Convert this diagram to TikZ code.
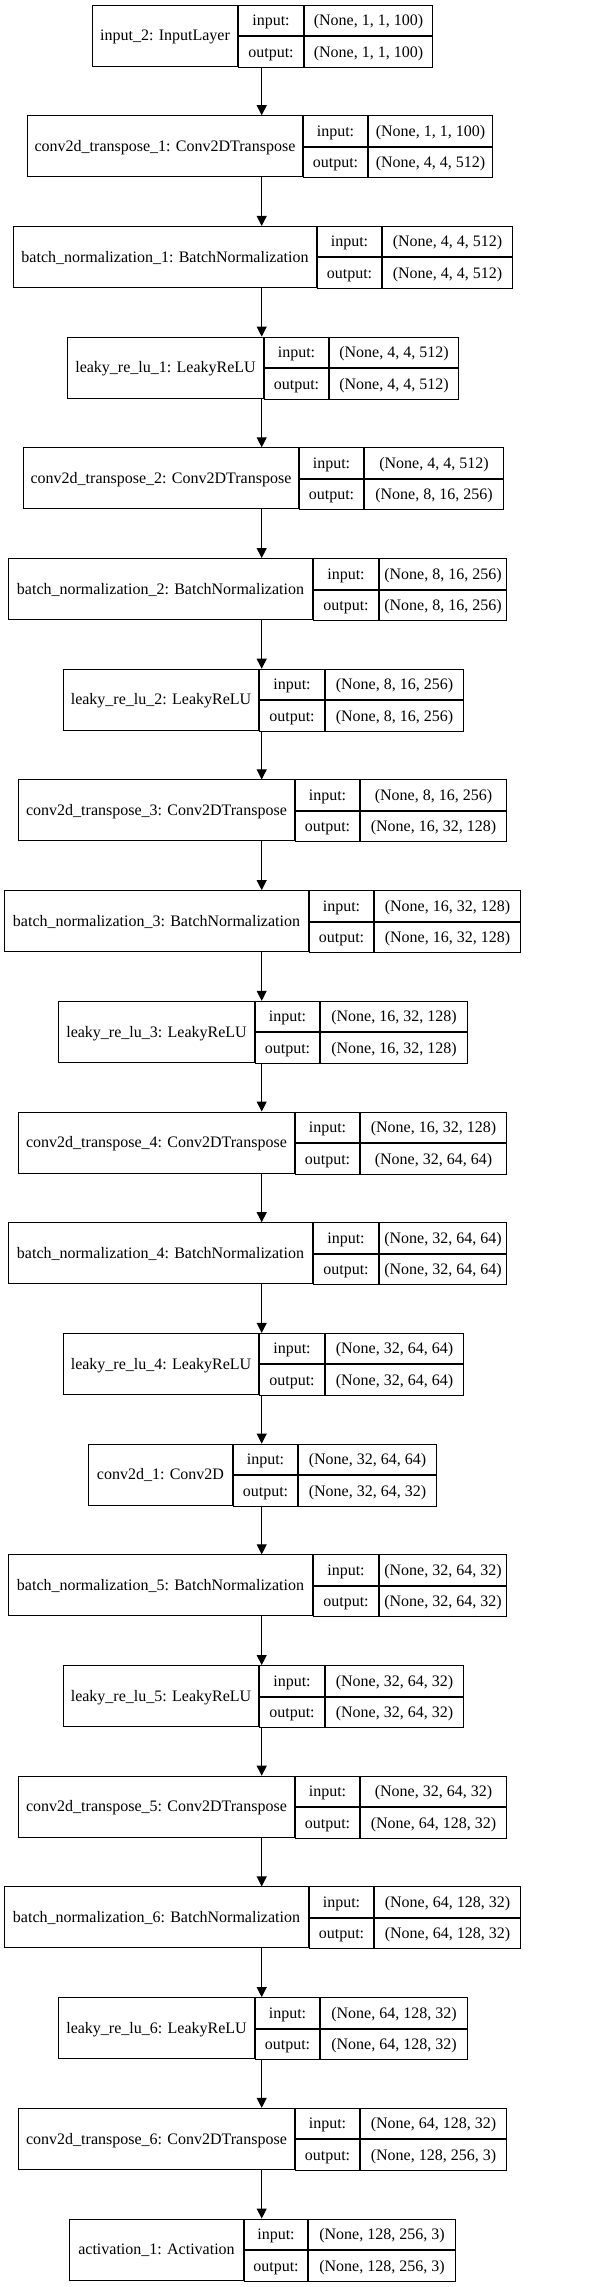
\documentclass[tikz,border=0pt]{standalone}
\usepackage{fontspec}
\setmainfont{Liberation Serif}
\usepackage{tikz}
\usetikzlibrary{arrows.meta}

\begin{document}
\begin{tikzpicture}[x=1pt, y=-1pt, font=\fontsize{16}{19}\selectfont,
  lbl/.style={draw, line width=1pt, anchor=west, minimum height=61pt, inner sep=0pt, text height=10.5pt, text depth=0pt},
  iocell/.style={draw, line width=1pt, anchor=north west, minimum height=30.5pt, inner sep=0pt, text height=10.5pt, text depth=0pt},
  arr/.style={line width=1pt, -{Triangle[length=10pt,width=10pt]}}]
  \useasboundingbox (0,0) rectangle (597,2287);
  \coordinate (axis) at (261.7,0);
  % input_2
  \begin{scope}[yshift=-5pt]
    \node[lbl, minimum width=145pt] (in2) at (92,30.5) {input\_2: InputLayer};
    \node[iocell, minimum width=65pt] (in2i) at (in2.north east) {input:};
    \node[iocell, minimum width=65pt] (in2o) at (in2i.south west) {output:};
    \node[iocell, minimum width=128pt] (in2si) at (in2i.north east) {(None, 1, 1, 100)};
    \node[iocell, minimum width=128pt] (in2so) at (in2si.south west) {(None, 1, 1, 100)};
  \end{scope}
  % conv2d_transpose_1
  \begin{scope}[yshift=-115.7pt]
    \node[lbl, minimum width=275pt] (ct1) at (27,30.5) {conv2d\_transpose\_1: Conv2DTranspose};
    \node[iocell, minimum width=64pt] (ct1i) at (ct1.north east) {input:};
    \node[iocell, minimum width=64pt] (ct1o) at (ct1i.south west) {output:};
    \node[iocell, minimum width=124pt] (ct1si) at (ct1i.north east) {(None, 1, 1, 100)};
    \node[iocell, minimum width=124pt] (ct1so) at (ct1si.south west) {(None, 4, 4, 512)};
  \end{scope}
  % batch_normalization_1
  \begin{scope}[yshift=-226.4pt]
    \node[lbl, minimum width=303pt] (bn1) at (13,30.5) {batch\_normalization\_1: BatchNormalization};
    \node[iocell, minimum width=64pt] (bn1i) at (bn1.north east) {input:};
    \node[iocell, minimum width=64pt] (bn1o) at (bn1i.south west) {output:};
    \node[iocell, minimum width=130pt] (bn1si) at (bn1i.north east) {(None, 4, 4, 512)};
    \node[iocell, minimum width=130pt] (bn1so) at (bn1si.south west) {(None, 4, 4, 512)};
  \end{scope}
  % leaky_re_lu_1
  \begin{scope}[yshift=-337.1pt]
    \node[lbl, minimum width=196pt] (lr1) at (67,30.5) {leaky\_re\_lu\_1: LeakyReLU};
    \node[iocell, minimum width=64pt] (lr1i) at (lr1.north east) {input:};
    \node[iocell, minimum width=64pt] (lr1o) at (lr1i.south west) {output:};
    \node[iocell, minimum width=129pt] (lr1si) at (lr1i.north east) {(None, 4, 4, 512)};
    \node[iocell, minimum width=129pt] (lr1so) at (lr1si.south west) {(None, 4, 4, 512)};
  \end{scope}
  % conv2d_transpose_2
  \begin{scope}[yshift=-447.8pt]
    \node[lbl, minimum width=275pt] (ct2) at (23,30.5) {conv2d\_transpose\_2: Conv2DTranspose};
    \node[iocell, minimum width=64pt] (ct2i) at (ct2.north east) {input:};
    \node[iocell, minimum width=64pt] (ct2o) at (ct2i.south west) {output:};
    \node[iocell, minimum width=139pt] (ct2si) at (ct2i.north east) {(None, 4, 4, 512)};
    \node[iocell, minimum width=139pt] (ct2so) at (ct2si.south west) {(None, 8, 16, 256)};
  \end{scope}
  % batch_normalization_2
  \begin{scope}[yshift=-558.5pt]
    \node[lbl, minimum width=304pt] (bn2) at (8,30.5) {batch\_normalization\_2: BatchNormalization};
    \node[iocell, minimum width=65pt] (bn2i) at (bn2.north east) {input:};
    \node[iocell, minimum width=65pt] (bn2o) at (bn2i.south west) {output:};
    \node[iocell, minimum width=127pt] (bn2si) at (bn2i.north east) {(None, 8, 16, 256)};
    \node[iocell, minimum width=127pt] (bn2so) at (bn2si.south west) {(None, 8, 16, 256)};
  \end{scope}
  % leaky_re_lu_2
  \begin{scope}[yshift=-669.2pt]
    \node[lbl, minimum width=195pt] (lr2) at (63,30.5) {leaky\_re\_lu\_2: LeakyReLU};
    \node[iocell, minimum width=65pt] (lr2i) at (lr2.north east) {input:};
    \node[iocell, minimum width=65pt] (lr2o) at (lr2i.south west) {output:};
    \node[iocell, minimum width=138pt] (lr2si) at (lr2i.north east) {(None, 8, 16, 256)};
    \node[iocell, minimum width=138pt] (lr2so) at (lr2si.south west) {(None, 8, 16, 256)};
  \end{scope}
  % conv2d_transpose_3
  \begin{scope}[yshift=-779.9pt]
    \node[lbl, minimum width=276pt] (ct3) at (18,30.5) {conv2d\_transpose\_3: Conv2DTranspose};
    \node[iocell, minimum width=64pt] (ct3i) at (ct3.north east) {input:};
    \node[iocell, minimum width=64pt] (ct3o) at (ct3i.south west) {output:};
    \node[iocell, minimum width=146pt] (ct3si) at (ct3i.north east) {(None, 8, 16, 256)};
    \node[iocell, minimum width=146pt] (ct3so) at (ct3si.south west) {(None, 16, 32, 128)};
  \end{scope}
  % batch_normalization_3
  \begin{scope}[yshift=-890.6pt]
    \node[lbl, minimum width=304pt] (bn3) at (4,30.5) {batch\_normalization\_3: BatchNormalization};
    \node[iocell, minimum width=64pt] (bn3i) at (bn3.north east) {input:};
    \node[iocell, minimum width=64pt] (bn3o) at (bn3i.south west) {output:};
    \node[iocell, minimum width=146pt] (bn3si) at (bn3i.north east) {(None, 16, 32, 128)};
    \node[iocell, minimum width=146pt] (bn3so) at (bn3si.south west) {(None, 16, 32, 128)};
  \end{scope}
  % leaky_re_lu_3
  \begin{scope}[yshift=-1001.3pt]
    \node[lbl, minimum width=196pt] (lr3) at (58,30.5) {leaky\_re\_lu\_3: LeakyReLU};
    \node[iocell, minimum width=64pt] (lr3i) at (lr3.north east) {input:};
    \node[iocell, minimum width=64pt] (lr3o) at (lr3i.south west) {output:};
    \node[iocell, minimum width=147pt] (lr3si) at (lr3i.north east) {(None, 16, 32, 128)};
    \node[iocell, minimum width=147pt] (lr3so) at (lr3si.south west) {(None, 16, 32, 128)};
  \end{scope}
  % conv2d_transpose_4
  \begin{scope}[yshift=-1112pt]
    \node[lbl, minimum width=276pt] (ct4) at (18,30.5) {conv2d\_transpose\_4: Conv2DTranspose};
    \node[iocell, minimum width=64pt] (ct4i) at (ct4.north east) {input:};
    \node[iocell, minimum width=64pt] (ct4o) at (ct4i.south west) {output:};
    \node[iocell, minimum width=146pt] (ct4si) at (ct4i.north east) {(None, 16, 32, 128)};
    \node[iocell, minimum width=146pt] (ct4so) at (ct4si.south west) {(None, 32, 64, 64)};
  \end{scope}
  % batch_normalization_4
  \begin{scope}[yshift=-1222.7pt]
    \node[lbl, minimum width=304pt] (bn4) at (8,30.5) {batch\_normalization\_4: BatchNormalization};
    \node[iocell, minimum width=65pt] (bn4i) at (bn4.north east) {input:};
    \node[iocell, minimum width=65pt] (bn4o) at (bn4i.south west) {output:};
    \node[iocell, minimum width=127pt] (bn4si) at (bn4i.north east) {(None, 32, 64, 64)};
    \node[iocell, minimum width=127pt] (bn4so) at (bn4si.south west) {(None, 32, 64, 64)};
  \end{scope}
  % leaky_re_lu_4
  \begin{scope}[yshift=-1333.4pt]
    \node[lbl, minimum width=195pt] (lr4) at (63,30.5) {leaky\_re\_lu\_4: LeakyReLU};
    \node[iocell, minimum width=65pt] (lr4i) at (lr4.north east) {input:};
    \node[iocell, minimum width=65pt] (lr4o) at (lr4i.south west) {output:};
    \node[iocell, minimum width=138pt] (lr4si) at (lr4i.north east) {(None, 32, 64, 64)};
    \node[iocell, minimum width=138pt] (lr4so) at (lr4si.south west) {(None, 32, 64, 64)};
  \end{scope}
  % conv2d_1
  \begin{scope}[yshift=-1444.1pt]
    \node[lbl, minimum width=144pt] (cv1) at (88,30.5) {conv2d\_1: Conv2D};
    \node[iocell, minimum width=64pt] (cv1i) at (cv1.north east) {input:};
    \node[iocell, minimum width=64pt] (cv1o) at (cv1i.south west) {output:};
    \node[iocell, minimum width=138pt] (cv1si) at (cv1i.north east) {(None, 32, 64, 64)};
    \node[iocell, minimum width=138pt] (cv1so) at (cv1si.south west) {(None, 32, 64, 32)};
  \end{scope}
  % batch_normalization_5
  \begin{scope}[yshift=-1554.8pt]
    \node[lbl, minimum width=304pt] (bn5) at (8,30.5) {batch\_normalization\_5: BatchNormalization};
    \node[iocell, minimum width=65pt] (bn5i) at (bn5.north east) {input:};
    \node[iocell, minimum width=65pt] (bn5o) at (bn5i.south west) {output:};
    \node[iocell, minimum width=127pt] (bn5si) at (bn5i.north east) {(None, 32, 64, 32)};
    \node[iocell, minimum width=127pt] (bn5so) at (bn5si.south west) {(None, 32, 64, 32)};
  \end{scope}
  % leaky_re_lu_5
  \begin{scope}[yshift=-1665.5pt]
    \node[lbl, minimum width=195pt] (lr5) at (63,30.5) {leaky\_re\_lu\_5: LeakyReLU};
    \node[iocell, minimum width=65pt] (lr5i) at (lr5.north east) {input:};
    \node[iocell, minimum width=65pt] (lr5o) at (lr5i.south west) {output:};
    \node[iocell, minimum width=138pt] (lr5si) at (lr5i.north east) {(None, 32, 64, 32)};
    \node[iocell, minimum width=138pt] (lr5so) at (lr5si.south west) {(None, 32, 64, 32)};
  \end{scope}
  % conv2d_transpose_5
  \begin{scope}[yshift=-1776.2pt]
    \node[lbl, minimum width=276pt] (ct5) at (18,30.5) {conv2d\_transpose\_5: Conv2DTranspose};
    \node[iocell, minimum width=64pt] (ct5i) at (ct5.north east) {input:};
    \node[iocell, minimum width=64pt] (ct5o) at (ct5i.south west) {output:};
    \node[iocell, minimum width=146pt] (ct5si) at (ct5i.north east) {(None, 32, 64, 32)};
    \node[iocell, minimum width=146pt] (ct5so) at (ct5si.south west) {(None, 64, 128, 32)};
  \end{scope}
  % batch_normalization_6
  \begin{scope}[yshift=-1886.9pt]
    \node[lbl, minimum width=304pt] (bn6) at (4,30.5) {batch\_normalization\_6: BatchNormalization};
    \node[iocell, minimum width=64pt] (bn6i) at (bn6.north east) {input:};
    \node[iocell, minimum width=64pt] (bn6o) at (bn6i.south west) {output:};
    \node[iocell, minimum width=146pt] (bn6si) at (bn6i.north east) {(None, 64, 128, 32)};
    \node[iocell, minimum width=146pt] (bn6so) at (bn6si.south west) {(None, 64, 128, 32)};
  \end{scope}
  % leaky_re_lu_6
  \begin{scope}[yshift=-1997.6pt]
    \node[lbl, minimum width=196pt] (lr6) at (58,30.5) {leaky\_re\_lu\_6: LeakyReLU};
    \node[iocell, minimum width=64pt] (lr6i) at (lr6.north east) {input:};
    \node[iocell, minimum width=64pt] (lr6o) at (lr6i.south west) {output:};
    \node[iocell, minimum width=147pt] (lr6si) at (lr6i.north east) {(None, 64, 128, 32)};
    \node[iocell, minimum width=147pt] (lr6so) at (lr6si.south west) {(None, 64, 128, 32)};
  \end{scope}
  % conv2d_transpose_6
  \begin{scope}[yshift=-2108.3pt]
    \node[lbl, minimum width=276pt] (ct6) at (18,30.5) {conv2d\_transpose\_6: Conv2DTranspose};
    \node[iocell, minimum width=64pt] (ct6i) at (ct6.north east) {input:};
    \node[iocell, minimum width=64pt] (ct6o) at (ct6i.south west) {output:};
    \node[iocell, minimum width=146pt] (ct6si) at (ct6i.north east) {(None, 64, 128, 32)};
    \node[iocell, minimum width=146pt] (ct6so) at (ct6si.south west) {(None, 128, 256, 3)};
  \end{scope}
  % activation_1
  \begin{scope}[yshift=-2219pt]
    \node[lbl, minimum width=174pt] (act1) at (69,30.5) {activation\_1: Activation};
    \node[iocell, minimum width=63pt] (act1i) at (act1.north east) {input:};
    \node[iocell, minimum width=63pt] (act1o) at (act1i.south west) {output:};
    \node[iocell, minimum width=147pt] (act1si) at (act1i.north east) {(None, 128, 256, 3)};
    \node[iocell, minimum width=147pt] (act1so) at (act1si.south west) {(None, 128, 256, 3)};
  \end{scope}
  % edges
  \draw[arr] (in2.south -| axis) -- (ct1.north -| axis);
  \draw[arr] (ct1.south -| axis) -- (bn1.north -| axis);
  \draw[arr] (bn1.south -| axis) -- (lr1.north -| axis);
  \draw[arr] (lr1.south -| axis) -- (ct2.north -| axis);
  \draw[arr] (ct2.south -| axis) -- (bn2.north -| axis);
  \draw[arr] (bn2.south -| axis) -- (lr2.north -| axis);
  \draw[arr] (lr2.south -| axis) -- (ct3.north -| axis);
  \draw[arr] (ct3.south -| axis) -- (bn3.north -| axis);
  \draw[arr] (bn3.south -| axis) -- (lr3.north -| axis);
  \draw[arr] (lr3.south -| axis) -- (ct4.north -| axis);
  \draw[arr] (ct4.south -| axis) -- (bn4.north -| axis);
  \draw[arr] (bn4.south -| axis) -- (lr4.north -| axis);
  \draw[arr] (lr4.south -| axis) -- (cv1.north -| axis);
  \draw[arr] (cv1.south -| axis) -- (bn5.north -| axis);
  \draw[arr] (bn5.south -| axis) -- (lr5.north -| axis);
  \draw[arr] (lr5.south -| axis) -- (ct5.north -| axis);
  \draw[arr] (ct5.south -| axis) -- (bn6.north -| axis);
  \draw[arr] (bn6.south -| axis) -- (lr6.north -| axis);
  \draw[arr] (lr6.south -| axis) -- (ct6.north -| axis);
  \draw[arr] (ct6.south -| axis) -- (act1.north -| axis);
\end{tikzpicture}
\end{document}
